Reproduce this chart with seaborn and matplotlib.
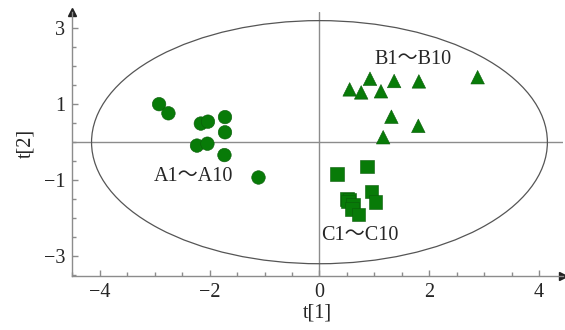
import numpy as np
import pandas as pd
import matplotlib.pyplot as plt
import seaborn as sns
from matplotlib.patches import Ellipse

# score values
a_t1 = [-2.92, -2.75, -2.16, -2.03, -1.72, -1.72, -2.23, -2.04, -1.73, -1.11]
a_t2 = [1.00, 0.76, 0.49, 0.54, 0.66, 0.26, -0.09, -0.04, -0.34, -0.93]
b_t1 = [0.92, 0.55, 0.76, 1.12, 1.36, 1.81, 2.88, 1.31, 1.80, 1.16]
b_t2 = [1.67, 1.39, 1.31, 1.34, 1.61, 1.60, 1.71, 0.67, 0.43, 0.13]
c_t1 = [0.32, 0.87, 0.95, 1.02, 0.50, 0.55, 0.52, 0.61, 0.59, 0.71]
c_t2 = [-0.84, -0.64, -1.30, -1.58, -1.49, -1.52, -1.56, -1.65, -1.76, -1.91]
groups = ["A", "B", "C"]
group_labels = ["A1～A10", "B1～B10", "C1～C10"]
label_pos = [(-2.3, -0.9), (1.71, 2.17), (0.74, -2.47)]
ellipse_axes = (4.15, 3.2)
xticks = [-4, -2, 0, 2, 4]
yticks = [-3, -1, 1, 3]

df = pd.DataFrame({
    "t1": a_t1 + b_t1 + c_t1,
    "t2": a_t2 + b_t2 + c_t2,
    "group": ["A"] * 10 + ["B"] * 10 + ["C"] * 10,
})

sns.set_style("white")
plt.rcParams["font.family"] = ["Liberation Serif", "Noto Sans CJK SC", "DejaVu Sans"]
plt.rcParams["axes.unicode_minus"] = True

fig = plt.figure(figsize=(5.65, 3.3), dpi=100)
ax = fig.add_axes([0.128, 0.164, 0.869, 0.8])

grey = "#8c8c8c"
ax.axhline(0, color=grey, lw=1, zorder=1)
ax.axvline(0, color=grey, lw=1, zorder=1)
ax.add_patch(Ellipse((0, 0), 2 * ellipse_axes[0], 2 * ellipse_axes[1],
                     fill=False, ec="#555555", lw=0.9, zorder=1))

sns.scatterplot(data=df, x="t1", y="t2", hue="group", style="group",
                palette={g: "#087b08" for g in groups},
                markers={"A": "o", "B": "^", "C": "s"},
                s=95, edgecolor="#0a5c0a", linewidth=0.4,
                legend=False, ax=ax, zorder=3)

fs = 14.5
for lab, (x, y) in zip(group_labels, label_pos):
    ax.text(x, y, lab, fontsize=fs, ha="center", va="center")

ax.set_xlim(-4.5, 4.44)
ax.set_ylim(-3.52, 3.43)
ax.set_xticks(xticks)
ax.set_yticks(yticks)
ax.set_xticks(np.arange(-4.5, 4.01, 0.5), minor=True)
ax.set_yticks(np.arange(-3.5, 3.01, 0.5), minor=True)
ax.tick_params(which="both", direction="in", color=grey, labelsize=fs, pad=5,
               bottom=True, left=True)
ax.tick_params(which="major", length=4, width=1)
ax.tick_params(which="minor", length=3, width=1)
ax.set_xlabel("t[1]", fontsize=fs, labelpad=1)
ax.set_ylabel("t[2]", fontsize=fs, labelpad=6)

for side in ["top", "right"]:
    ax.spines[side].set_visible(False)
for side in ["left", "bottom"]:
    ax.spines[side].set_color(grey)
    ax.spines[side].set_linewidth(1)

ax.plot(1, 0, ">", color="#222222", ms=6, transform=ax.transAxes, clip_on=False)
ax.plot(0, 1, "^", color="#222222", ms=6, transform=ax.transAxes, clip_on=False)

fig.savefig("out.png", dpi=100)
